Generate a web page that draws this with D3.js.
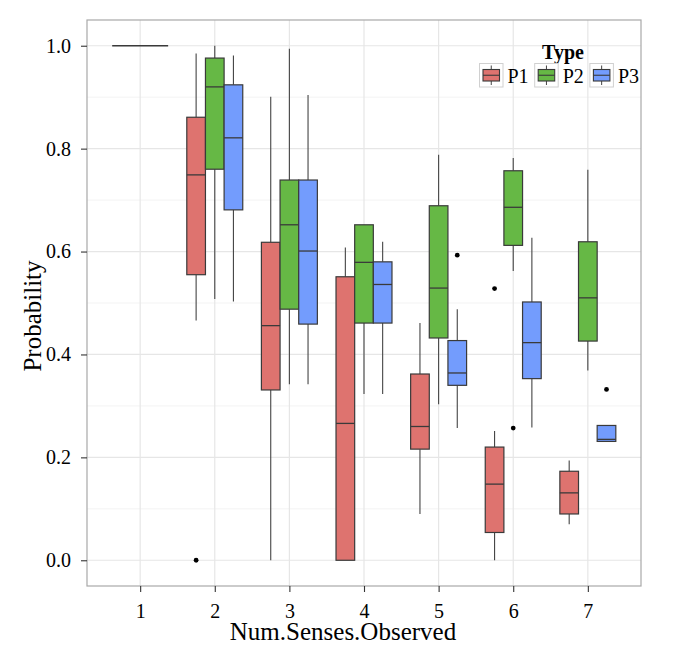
<!DOCTYPE html>
<html>
<head>
	<meta charset="utf-8">
	<title>Probability by Num.Senses.Observed</title>
	<script src="https://cdn.jsdelivr.net/npm/d3@7"></script>
	<style type="text/css">
		html, body {
			margin: 0;
			padding: 0;
			background: #fff;
		}
		text {
			font-family: "Liberation Serif", "DejaVu Serif", serif;
			fill: #000;
		}
	</style>
</head>
<body>
	<div id="graph"></div>
	<script type="text/javascript">
		// box stats per type: [senses, ymin, q1, median, q3, ymax]
		var senses = [1, 2, 3, 4, 5, 6, 7];
		var types = ["P1", "P2", "P3"];
		var colors = ["#de736f", "#66b845", "#739cfd"];

		var p1Stats = [
			[1, 1.000, 1.000, 1.000, 1.000, 1.000],
			[2, 0.466, 0.555, 0.749, 0.861, 0.985],
			[3, 0.000, 0.331, 0.456, 0.618, 0.901],
			[4, 0.000, 0.000, 0.266, 0.551, 0.608],
			[5, 0.090, 0.216, 0.260, 0.362, 0.461],
			[6, 0.000, 0.054, 0.148, 0.220, 0.251],
			[7, 0.070, 0.090, 0.131, 0.173, 0.194]
		];
		var p2Stats = [
			[2, 0.508, 0.760, 0.920, 0.976, 1.000],
			[3, 0.342, 0.488, 0.652, 0.739, 0.994],
			[4, 0.323, 0.461, 0.579, 0.652, 0.652],
			[5, 0.303, 0.432, 0.529, 0.689, 0.788],
			[6, 0.562, 0.612, 0.686, 0.757, 0.782],
			[7, 0.369, 0.426, 0.510, 0.619, 0.759]
		];
		var p3Stats = [
			[2, 0.503, 0.681, 0.821, 0.924, 0.981],
			[3, 0.342, 0.459, 0.601, 0.739, 0.904],
			[4, 0.323, 0.461, 0.536, 0.580, 0.619],
			[5, 0.257, 0.340, 0.364, 0.427, 0.488],
			[6, 0.258, 0.353, 0.423, 0.502, 0.627],
			[7, 0.231, 0.231, 0.235, 0.262, 0.262]
		];
		// outliers: [type, senses, value]
		var outliers = [
			["P1", 2, 0.000],
			["P3", 5, 0.593],
			["P1", 6, 0.528],
			["P2", 6, 0.257],
			["P3", 7, 0.332]
		];
		var yTicks = [0, 0.2, 0.4, 0.6, 0.8, 1.0];
		var yMinor = [0.1, 0.3, 0.5, 0.7, 0.9];

		var W = 673, H = 658;
		var pLeft = 87, pRight = 641, pTop = 20, pBottom = 586;
		var boxW = 0.75;

		var x = d3.scaleLinear().domain([1 - boxW / 2, 7 + boxW / 2]).range([pLeft, pRight]);
		x.domain([x.domain()[0] - 0.05 * 6.75, x.domain()[1] + 0.05 * 6.75]);
		var y = d3.scaleLinear().domain([-0.05, 1.05]).range([pBottom, pTop]);
		var color = d3.scaleOrdinal().domain(types).range(colors);

		var boxes = [];
		[p1Stats, p2Stats, p3Stats].forEach(function(arr, t) {
			arr.forEach(function(s) {
				boxes.push({type: types[t], s: s[0], ymin: s[1], q1: s[2], med: s[3], q3: s[4], ymax: s[5]});
			});
		});
		// dodge
		senses.forEach(function(k) {
			var grp = boxes.filter(function(b) { return b.s == k; });
			var w = boxW / grp.length;
			grp.forEach(function(b, i) {
				b.x0 = k - boxW / 2 + i * w;
				b.x1 = b.x0 + w;
			});
		});

		var svg = d3.select('#graph').append('svg')
			.attr('width', W).attr('height', H);

		// grid
		var grid = svg.append('g');
		grid.selectAll('line.minor').data(yMinor).enter().append('line')
			.attr('x1', pLeft).attr('x2', pRight)
			.attr('y1', function(d) { return y(d); }).attr('y2', function(d) { return y(d); })
			.attr('stroke', '#f3f3f3').attr('stroke-width', 1);
		grid.selectAll('line.majy').data(yTicks).enter().append('line')
			.attr('x1', pLeft).attr('x2', pRight)
			.attr('y1', function(d) { return y(d); }).attr('y2', function(d) { return y(d); })
			.attr('stroke', '#e6e6e6').attr('stroke-width', 1.2);
		grid.selectAll('line.majx').data(senses).enter().append('line')
			.attr('y1', pTop).attr('y2', pBottom)
			.attr('x1', function(d) { return x(d); }).attr('x2', function(d) { return x(d); })
			.attr('stroke', '#e6e6e6').attr('stroke-width', 1.2);

		// boxes
		var g = svg.append('g');
		var bx = g.selectAll('g.box').data(boxes).enter().append('g');
		bx.append('line')
			.attr('x1', function(d) { return x((d.x0 + d.x1) / 2); })
			.attr('x2', function(d) { return x((d.x0 + d.x1) / 2); })
			.attr('y1', function(d) { return y(d.ymax); })
			.attr('y2', function(d) { return y(d.q3); })
			.attr('stroke', '#444').attr('stroke-width', 1.1);
		bx.append('line')
			.attr('x1', function(d) { return x((d.x0 + d.x1) / 2); })
			.attr('x2', function(d) { return x((d.x0 + d.x1) / 2); })
			.attr('y1', function(d) { return y(d.q1); })
			.attr('y2', function(d) { return y(d.ymin); })
			.attr('stroke', '#444').attr('stroke-width', 1.1);
		bx.append('rect')
			.attr('x', function(d) { return x(d.x0); })
			.attr('width', function(d) { return x(d.x1) - x(d.x0); })
			.attr('y', function(d) { return y(d.q3); })
			.attr('height', function(d) { return y(d.q1) - y(d.q3); })
			.attr('fill', function(d) { return color(d.type); })
			.attr('stroke', '#3a3a3a').attr('stroke-width', 1.2);
		bx.append('line')
			.attr('x1', function(d) { return x(d.x0); })
			.attr('x2', function(d) { return x(d.x1); })
			.attr('y1', function(d) { return y(d.med); })
			.attr('y2', function(d) { return y(d.med); })
			.attr('stroke', '#3a3a3a').attr('stroke-width', 1.3);

		// outliers
		g.selectAll('circle').data(outliers).enter().append('circle')
			.attr('cx', function(d) {
				var b = boxes.filter(function(b) { return b.type == d[0] && b.s == d[1]; })[0];
				return x((b.x0 + b.x1) / 2);
			})
			.attr('cy', function(d) { return y(d[2]); })
			.attr('r', 2.4)
			.attr('fill', '#000');

		// panel border
		svg.append('rect')
			.attr('x', pLeft).attr('y', pTop)
			.attr('width', pRight - pLeft).attr('height', pBottom - pTop)
			.attr('fill', 'none').attr('stroke', '#a8a8a8').attr('stroke-width', 1.2);

		// axes
		var yAxis = d3.axisLeft(y).tickValues(yTicks).tickFormat(d3.format('.1f')).tickSize(6).tickPadding(10);
		var ya = svg.append('g').attr('transform', 'translate(' + pLeft + ',0)').call(yAxis);
		var xAxis = d3.axisBottom(x).tickValues(senses).tickFormat(d3.format('d')).tickSize(6).tickPadding(12);
		var xa = svg.append('g').attr('transform', 'translate(0,' + pBottom + ')').call(xAxis);
		[ya, xa].forEach(function(a) {
			a.select('.domain').remove();
			a.selectAll('.tick line').attr('stroke', '#333').attr('stroke-width', 1.1);
			a.selectAll('.tick text').attr('font-size', 20).attr('fill', '#000')
				.style('font-family', '"Liberation Serif", serif');
		});

		svg.append('text')
			.attr('x', 343).attr('y', 640)
			.attr('text-anchor', 'middle')
			.attr('font-size', 25)
			.text('Num.Senses.Observed');
		svg.append('text')
			.attr('transform', 'translate(41,316) rotate(-90)')
			.attr('text-anchor', 'middle')
			.attr('font-size', 25)
			.text('Probability');

		// legend
		var leg = svg.append('g');
		leg.append('text')
			.attr('x', 563).attr('y', 59)
			.attr('text-anchor', 'middle')
			.attr('font-size', 20).attr('font-weight', 'bold')
			.text('Type');
		var items = leg.selectAll('g.item').data(types).enter().append('g')
			.attr('transform', function(d, i) { return 'translate(' + (479.5 + i * 55.2) + ',63.5)'; });
		items.append('rect')
			.attr('width', 23.5).attr('height', 23.5)
			.attr('fill', '#fff').attr('stroke', '#d0d0d0').attr('stroke-width', 1);
		items.append('line')
			.attr('x1', 11.75).attr('x2', 11.75).attr('y1', 2).attr('y2', 21.5)
			.attr('stroke', '#444').attr('stroke-width', 1);
		items.append('rect')
			.attr('x', 3.5).attr('y', 6).attr('width', 16.5).attr('height', 11.5)
			.attr('fill', function(d) { return color(d); })
			.attr('stroke', '#3a3a3a').attr('stroke-width', 1.1);
		items.append('line')
			.attr('x1', 3.5).attr('x2', 20).attr('y1', 11.75).attr('y2', 11.75)
			.attr('stroke', '#3a3a3a').attr('stroke-width', 1.1);
		items.append('text')
			.attr('x', 28).attr('y', 19.5)
			.attr('font-size', 20)
			.text(function(d) { return d; });
	</script>
</body>
</html>
